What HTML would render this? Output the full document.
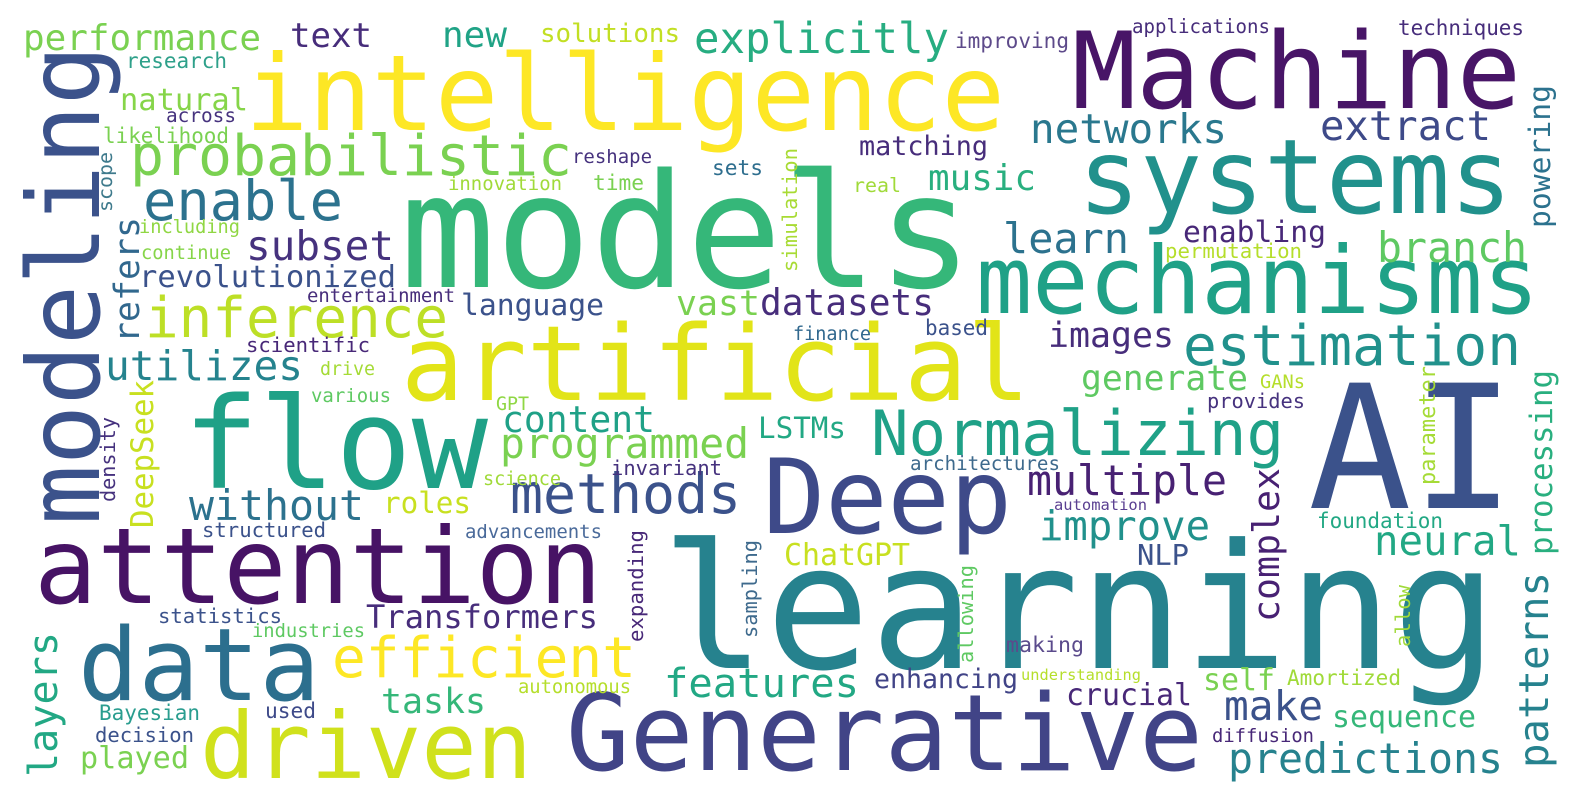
<!DOCTYPE html>
<html><head><meta charset="utf-8">
<style>
html,body{margin:0;padding:0;background:#fff;}
svg{display:block;}
text{font-family:"DejaVu Sans Mono","Liberation Mono",monospace;}
</style></head>
<body>
<svg id="cloud" width="1580" height="810" viewBox="0 0 1580 810" xmlns="http://www.w3.org/2000/svg">
<rect width="1580" height="810" fill="#ffffff"/>
</svg>
<script>
// word, x (left / baseline for rotated), y (baseline / start for rotated), extent px, color, rotated
const words = ["learning","models","intelligence","Machine","systems","mechanisms","artificial","AI","flow","Deep","Generative","attention","data","driven","modeling","Normalizing","probabilistic","inference","efficient","methods","estimation","enable","explicitly","networks","extract","performance","text","new","solutions","research","natural","across","likelihood","reshape","innovation","time","scope","refers","including","continue","subset","revolutionized","entertainment","language","scientific","utilizes","drive","various","GPT","DeepSeek","density","content","programmed","LSTMs","invariant","science","without","roles","structured","advancements","expanding","statistics","Transformers","industries","layers","autonomous","tasks","Bayesian","used","decision","played","improving","applications","techniques","matching","powering","sets","simulation","real","music","learn","enabling","branch","permutation","vast","datasets","finance","based","images","generate","GANs","provides","parameter","processing","architectures","multiple","complex","automation","foundation","improve","neural","ChatGPT","NLP","sampling","allowing","allow","patterns","making","features","enhancing","understanding","crucial","self","Amortized","make","sequence","diffusion","predictions"];
const xs = [661,400,245,1072,1078,976,401,1308,183,763,566,34,78,200,99,871,130,145,332,510,1183,143,694,1030,1320,23,290,442,540,126,120,166,103,572,448,593,112,139,139,141,246,139,307,461,246,105,320,311,496,153,115,502,500,758,611,483,189,383,202,465,643,158,366,252,57,518,381,99,265,95,80,955,1132,1398,859,1550,712,797,853,928,1003,1183,1377,1165,676,760,793,925,1048,1081,1260,1207,1435,1552,910,1027,1279,1054,1317,1039,1374,784,1137,757,973,1410,1548,1006,664,874,1021,1066,1203,1287,1224,1332,1212,1228];
const ys = [668,287,130,108,213,313,400,508,488,533,770,603,700,778,525,455,175,337,677,513,365,220,53,143,140,50,47,47,42,68,110,122,143,163,190,190,212,343,233,259,260,287,302,315,352,380,375,402,410,528,502,432,458,438,475,485,520,513,537,538,642,623,628,637,777,693,713,720,718,742,768,48,33,35,155,228,175,272,192,190,253,242,262,258,315,315,340,335,347,390,388,408,485,555,470,495,622,510,528,540,555,565,565,638,663,647,768,652,697,688,680,705,690,685,720,727,742,773];
const extents = [836,573,760,449,434,563,629,207,305,249,637,568,242,332,480,413,442,303,304,231,338,200,255,197,171,238,82,65,140,101,128,70,126,80,114,51,60,126,101,90,148,257,148,143,124,198,55,80,33,148,85,153,249,88,111,78,175,88,124,137,112,124,232,113,145,113,105,101,51,99,109,114,138,126,129,143,51,124,48,108,126,143,150,137,84,174,78,63,126,167,45,98,119,185,150,200,154,93,126,171,147,126,52,98,98,62,196,78,195,144,120,126,72,114,99,144,102,275];
const colors = ["#26828e","#35b779","#fde725","#481567","#21918c","#1fa187","#e2e418","#3b528b","#1fa187","#3e4a89","#414487","#471365","#2c6f8e","#d0e11c","#3b528b","#1fa187","#7ad151","#bddf26","#fde725","#3b528b","#21918c","#2c728e","#27ad81","#2a788e","#3e4a89","#7ad151","#472d7b","#20a386","#c2df23","#2ea08a","#86d549","#46327e","#7ad151","#46327e","#a0da39","#7ad151","#3e7a8c","#31688e","#90d743","#86d549","#46327e","#3b528b","#472d7b","#3b528b","#482878","#25838e","#a5db36","#5ec962","#8fd744","#c8e020","#46327e","#1fa187","#7ad151","#22a884","#46327e","#a0da39","#2c728e","#c8e020","#3b528b","#4a6a9a","#482878","#3b528b","#472d7b","#5ec962","#22a884","#b5de2b","#35b779","#2a9d8f","#3e4a89","#3b528b","#7ad151","#5d4a8a","#472d7b","#472d7b","#472d7b","#2c728e","#2e6e8e","#a8db34","#a0da39","#29af7f","#2c728e","#482878","#5ec962","#b5de2b","#7ad151","#472d7b","#31688e","#3b528b","#472d7b","#5ec962","#b5de2b","#46327e","#a5db36","#29af7f","#3e6a8d","#482173","#482173","#5a3f91","#22a884","#21918c","#22a884","#c8e020","#3b528b","#3e6a8d","#5ec962","#a0da39","#26828e","#5b4b8c","#22a884","#414487","#b5de2b","#482878","#7ad151","#a0da39","#3b528b","#35b779","#482878","#26828e"];
const rotated = ["modeling","scope","refers","DeepSeek","density","expanding","layers","powering","simulation","parameter","processing","complex","sampling","allowing","allow","patterns"];

const svg = document.getElementById('cloud');
const NS = 'http://www.w3.org/2000/svg';
for (let i = 0; i < words.length; i++) {
  const w = words[i];
  const t = document.createElementNS(NS, 'text');
  const fs = extents[i] / (w.length * 0.602);
  t.setAttribute('x', xs[i]);
  t.setAttribute('y', ys[i]);
  t.setAttribute('font-size', fs.toFixed(1));
  t.setAttribute('fill', colors[i]);
  t.setAttribute('textLength', extents[i]);
  t.setAttribute('lengthAdjust', 'spacingAndGlyphs');
  if (rotated.indexOf(w) >= 0) {
    t.setAttribute('transform', 'rotate(-90 ' + xs[i] + ' ' + ys[i] + ')');
  }
  
  
  t.textContent = w;
  svg.appendChild(t);
}
</script>
</body></html>
